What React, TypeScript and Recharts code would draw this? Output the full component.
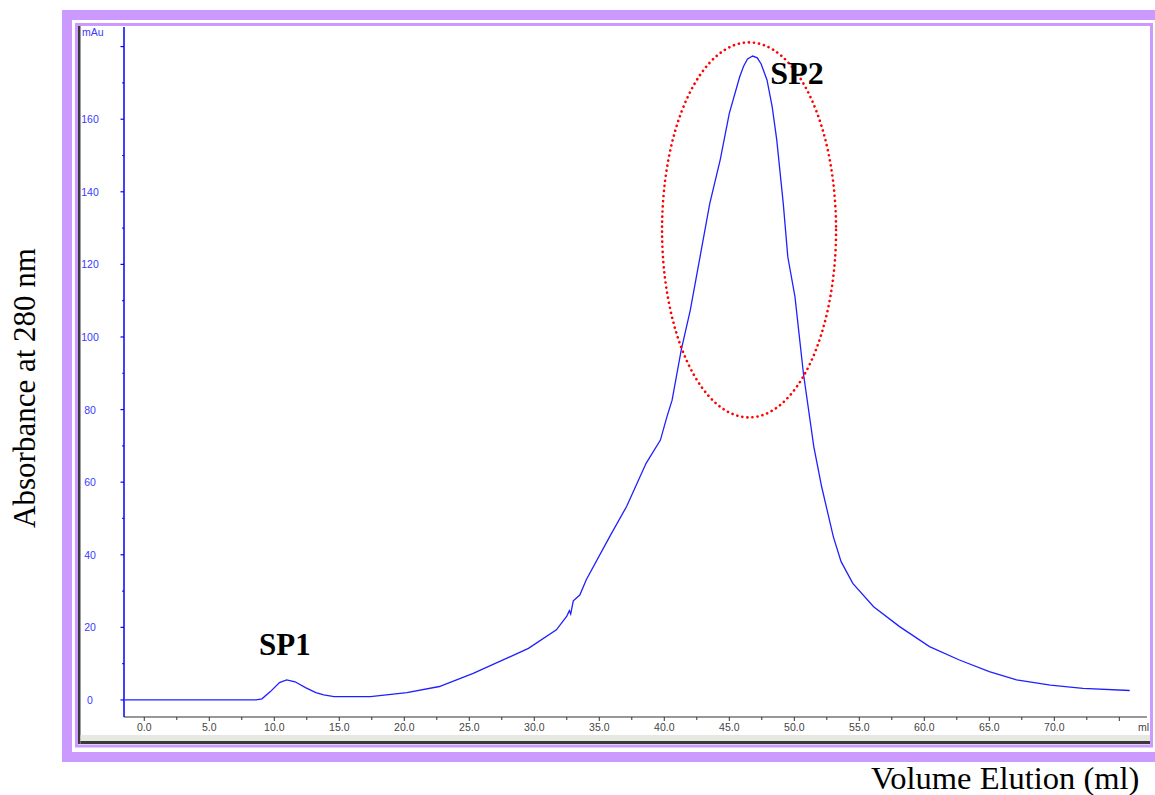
import React from "react";
import { LineChart, Line, XAxis, YAxis, ReferenceDot } from "recharts";

// elution volume (ml) and absorbance (mAu)
const VOLUME_ML = [
  -1.5, 8.6, 9.05, 9.7, 10.4, 10.95, 11.6, 12.4, 13.2, 13.8, 14.6, 17.4, 20.2, 22.7, 25.3, 27.9,
  29.55, 31.7, 32.5, 32.7, 32.8, 33.0, 33.5, 34.0, 35.8, 37.1, 38.6, 39.7, 40.2, 40.6, 41.3, 42.0,
  43.5, 44.3, 45.0, 45.8, 46.1, 46.4, 46.8, 47.15, 47.45, 47.9, 48.3, 48.65, 49.15, 49.5, 50.05, 50.7,
  51.5, 52.1, 53.0, 53.6, 54.5, 56.1, 58.1, 60.4, 62.7, 65.0, 67.1, 69.7, 72.2, 75.8,
];
const ABSORBANCE_MAU = [
  0, 0, 0.3, 2.3, 4.8, 5.5, 5.0, 3.4, 2.0, 1.4, 0.9, 0.9, 2.0, 3.7, 7.3, 11.5,
  14.2, 19.3, 23.1, 24.6, 23.7, 27.3, 28.9, 33.1, 45.0, 53.3, 65.2, 71.6, 78.0, 82.6, 96.4, 107.4,
  136.8, 148.8, 161.6, 171.7, 174.6, 176.6, 177.4, 176.9, 175.2, 170.8, 163.4, 154.3, 136.8, 122.1, 111.1, 90.0,
  69.8, 58.8, 45.0, 38.1, 32.1, 25.7, 20.2, 14.7, 11.0, 7.8, 5.5, 4.1, 3.2, 2.6,
];

const X_TICKS = [0, 2.5, 5, 7.5, 10, 12.5, 15, 17.5, 20, 22.5, 25, 27.5, 30, 32.5, 35, 37.5, 40, 42.5, 45, 47.5, 50, 52.5, 55, 57.5, 60, 62.5, 65, 67.5, 70, 72.5, 75];
const X_LABELS = [0, 5, 10, 15, 20, 25, 30, 35, 40, 45, 50, 55, 60, 65, 70];
const Y_TICKS = [0, 10, 20, 30, 40, 50, 60, 70, 80, 90, 100, 110, 120, 130, 140, 150, 160, 170, 180];
const Y_LABELS = [0, 20, 40, 60, 80, 100, 120, 140, 160];

// peak annotations
const PEAK_NAMES = ["SP1", "SP2"];
const PEAK_LABEL_ML = [10.82, 50.21];
const PEAK_LABEL_MAU = [15.4, 172.7];
const ELLIPSE_ML = 46.52;
const ELLIPSE_MAU = 129.5;

const data = VOLUME_ML.map((ml, i) => ({ ml, mau: ABSORBANCE_MAU[i] }));

const W = 1155;
const H = 795;
const PLOT_LEFT = 124;
const PLOT_BOTTOM = 717;
const PURPLE = "#cc99ff";
const BLUE = "#2020ff";
const TICK_FONT = '"Liberation Sans", Arial, sans-serif';
const SERIF = '"Liberation Serif", "Times New Roman", serif';

const YTick = (props: any) => {
  const { y, payload } = props;
  const v = payload.value;
  const major = v % 20 === 0;
  return (
    <g>
      <line x1={PLOT_LEFT - (major ? 3.5 : 1.8)} x2={PLOT_LEFT} y1={y} y2={y} stroke="#0000ff" strokeWidth={1.2} />
      {Y_LABELS.includes(v) && (
        <text x={90} y={y + 4} textAnchor="middle" fontSize={10.5} fontFamily={TICK_FONT} fill="#3a3aff">
          {v}
        </text>
      )}
    </g>
  );
};

const XTick = (props: any) => {
  const { x, payload } = props;
  const v = payload.value;
  const major = v % 5 === 0;
  return (
    <g>
      <line x1={x} x2={x} y1={PLOT_BOTTOM} y2={PLOT_BOTTOM + (major ? 4 : 3)} stroke="#333" strokeWidth={1} />
      {X_LABELS.includes(v) && (
        <text x={x} y={731} textAnchor="middle" fontSize={10.5} fontFamily={TICK_FONT} fill="#444">
          {v.toFixed(1)}
        </text>
      )}
    </g>
  );
};

const EllipseShape = (props: any) => (
  <ellipse
    cx={props.cx}
    cy={props.cy}
    rx={87}
    ry={187.5}
    fill="none"
    stroke="#ff0000"
    strokeWidth={2.6}
    strokeDasharray="0.1 5"
    strokeLinecap="round"
  />
);

export default function App() {
  return (
    <div style={{ position: "fixed", left: 0, top: 0, width: W, height: H, overflow: "hidden", background: "#fff" }}>
      {/* frame and titles */}
      <svg width={W} height={H} style={{ position: "absolute", left: 0, top: 0 }}>
        <rect x={67} y={15} width={1100} height={742} fill="none" stroke={PURPLE} strokeWidth={10} />
        <rect x={76.5} y={24.5} width={1075} height={721.5} fill="none" stroke={PURPLE} strokeWidth={3} />
        <rect x={78} y={26} width={2.5} height={718} fill="#3a3a3a" />
        <rect x={80.5} y={735} width={1069.5} height={6} fill="#e8e8e2" />
        <rect x={80.5} y={741} width={1069.5} height={3} fill="#3a3a3a" />
        <text x={82} y={35.5} fontSize={10.5} fontFamily={TICK_FONT} fill="#3a3aff">mAu</text>
        <text x={1138} y={731} fontSize={10.5} fontFamily={TICK_FONT} fill="#444">ml</text>
        <text
          x={35}
          y={388}
          transform="rotate(-90 35 388)"
          textAnchor="middle"
          fontSize={31}
          fontFamily={SERIF}
          fill="#000"
        >
          Absorbance at 280 nm
        </text>
        <text x={871} y={789} fontSize={32.5} fontFamily={SERIF} fill="#000">
          Volume Elution (ml)
        </text>
      </svg>
      <div style={{ position: "absolute", left: 0, top: 0 }}>
        <LineChart width={W} height={H} data={data} margin={{ top: 27, right: 8, left: 80, bottom: 48 }}>
          <XAxis
            type="number"
            dataKey="ml"
            domain={[-1.56, 77.13]}
            ticks={X_TICKS}
            allowDataOverflow
            height={30}
            axisLine={{ stroke: "#333", strokeWidth: 1.2 }}
            tickLine={false}
            tick={<XTick />}
            interval={0}
          />
          <YAxis
            type="number"
            domain={[-4.7, 185.4]}
            ticks={Y_TICKS}
            allowDataOverflow
            width={44}
            axisLine={{ stroke: "#0000ff", strokeWidth: 1.5 }}
            tickLine={false}
            tick={<YTick />}
            interval={0}
          />
          <Line
            type="linear"
            dataKey="mau"
            stroke={BLUE}
            strokeWidth={1.3}
            dot={false}
            activeDot={false}
            isAnimationActive={false}
          />
          <ReferenceDot x={ELLIPSE_ML} y={ELLIPSE_MAU} r={0} shape={<EllipseShape />} />
          {PEAK_NAMES.map((name, i) => (
            <ReferenceDot
              key={name}
              x={PEAK_LABEL_ML[i]}
              y={PEAK_LABEL_MAU[i]}
              r={0}
              fill="none"
              stroke="none"
              label={{
                value: name,
                position: "center",
                fill: "#000",
                fontSize: i === 0 ? 31 : 32,
                fontWeight: "bold",
                fontFamily: SERIF,
              }}
            />
          ))}
        </LineChart>
      </div>
    </div>
  );
}
